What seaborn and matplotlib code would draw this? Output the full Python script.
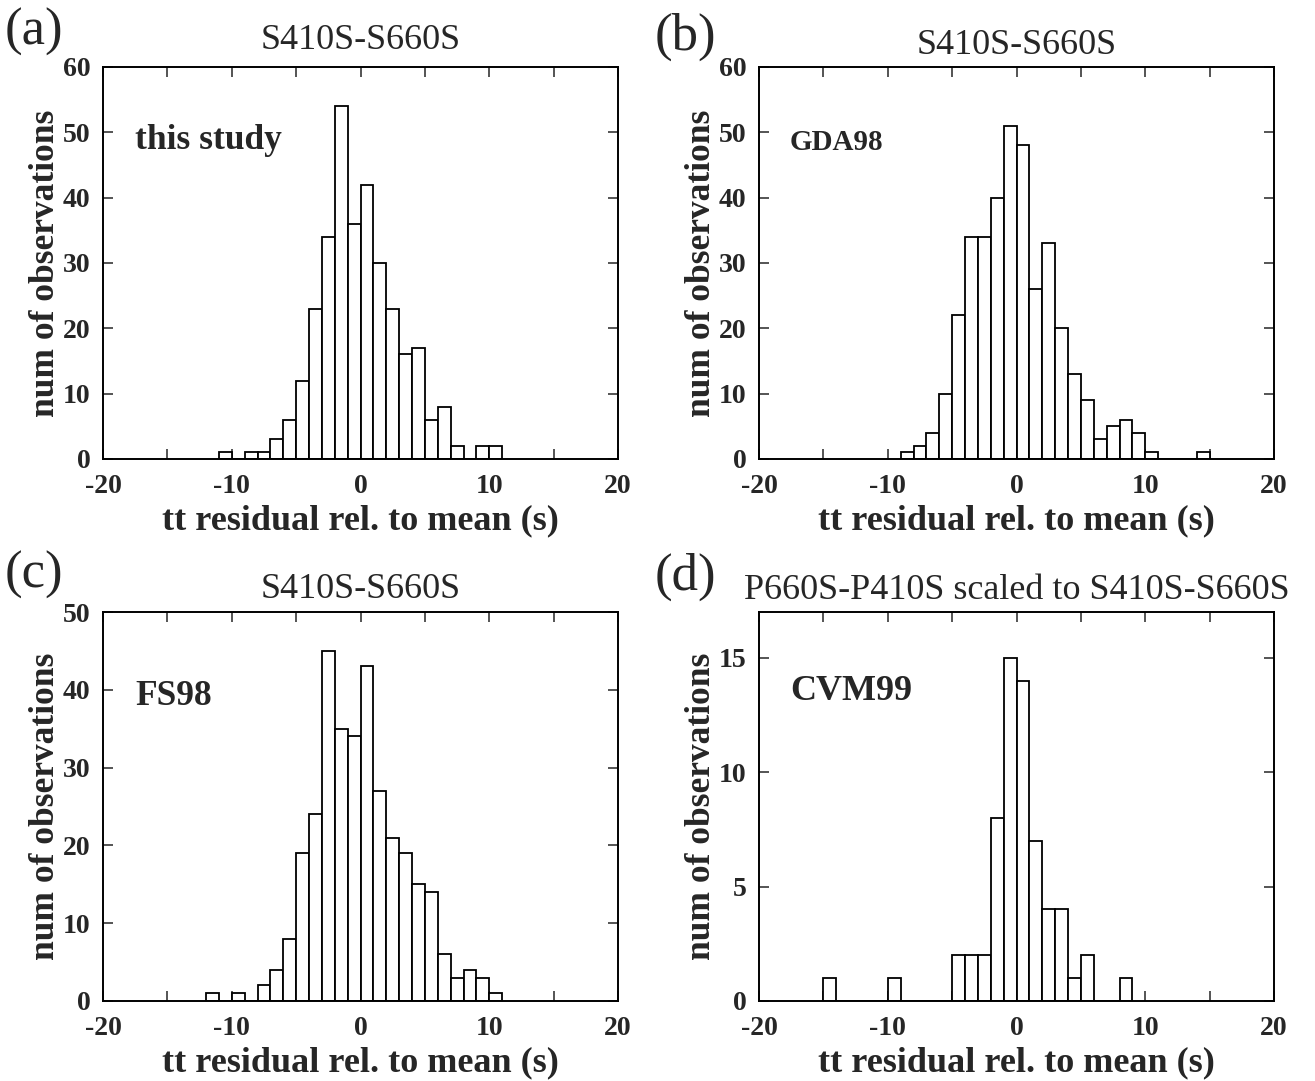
import numpy as np
import pandas as pd
import matplotlib
matplotlib.use("Agg")
import matplotlib.pyplot as plt
import seaborn as sns

# ---------------- data (1 s bins, counts from first bin start) ----------------
a_start = -11
a_counts = [1, 0, 1, 1, 3, 6, 12, 23, 34, 54, 36, 42, 30, 23, 16, 17, 6, 8, 2, 0, 2, 2]
b_start = -9
b_counts = [1, 2, 4, 10, 22, 34, 34, 40, 51, 48, 26, 33, 20, 13, 9, 3, 5, 6, 4, 1, 0, 0, 0, 1]
c_start = -12
c_counts = [1, 0, 1, 0, 2, 4, 8, 19, 24, 45, 35, 34, 43, 27, 21, 19, 15, 14, 6, 3, 4, 3, 1]
d_start = -15
d_counts = [1, 0, 0, 0, 0, 1, 0, 0, 0, 0, 2, 2, 2, 8, 15, 14, 7, 4, 4, 1, 2, 0, 0, 1]

panel_letters = ["(a)", "(b)", "(c)", "(d)"]
titles = ["S410S-S660S", "S410S-S660S", "S410S-S660S",
          "P660S-P410S scaled to S410S-S660S"]
labels = ["this study", "GDA98", "FS98", "CVM99"]
xlabel = "tt residual rel. to mean (s)"
ylabel = "num of observations"
x_ticks = [-20, -10, 0, 10, 20]
y_max = [60, 60, 50, 17]
y_tick_step = [10, 10, 10, 5]

# ---------------- style ----------------
sns.set_style("ticks")
plt.rcParams["font.family"] = ["Liberation Serif", "DejaVu Serif"]
plt.rcParams["axes.linewidth"] = 1.4

W, H = 1315, 1081
fig = plt.figure(figsize=(W / 100, H / 100), dpi=100)

boxes = [(103, 618, 67, 459), (759, 1274, 67, 459),
         (103, 618, 612, 1001), (759, 1274, 612, 1001)]
starts = [a_start, b_start, c_start, d_start]
counts = [a_counts, b_counts, c_counts, d_counts]
# (x_left, baseline_y, fontsize)
label_pos = [(135, 149, 25.5), (790, 150, 21), (135, 705, 25.5), (790, 700, 26)]
letter_pos = [(5, 45), (655, 50), (5, 588), (655, 590)]
title_base = [49, 54, 598, 599]

for i in range(4):
    l, r, t, b = boxes[i]
    ax = fig.add_axes([l / W, 1 - b / H, (r - l) / W, (b - t) / H])
    cnt = np.array(counts[i], dtype=float)
    centers = starts[i] + 0.5 + np.arange(len(cnt))
    df = pd.DataFrame({"x": centers, "n": cnt})
    sns.histplot(data=df, x="x", weights="n", binwidth=1,
                 binrange=(starts[i], starts[i] + len(cnt)), stat="count",
                 color="white", edgecolor="black", linewidth=1.3, alpha=1,
                 ax=ax)
    ax.set_xlim(-20, 20)
    ax.set_ylim(0, y_max[i])
    ax.set_xticks(np.arange(-20, 21, 5))
    ax.set_xticklabels([str(v) if v in x_ticks else "" for v in range(-20, 21, 5)])
    yt = np.arange(0, y_max[i] + 0.1, y_tick_step[i])
    ax.set_yticks(yt)
    ax.set_yticklabels([f"{int(v)}" for v in yt])
    ax.tick_params(direction="in", length=7, width=1.1, top=True, right=True,
                   labelsize=20)
    ax.tick_params(axis="x", pad=11)
    ax.tick_params(axis="y", pad=9)
    for lab in ax.get_xticklabels() + ax.get_yticklabels():
        lab.set_fontweight("bold")
    ax.set_xlabel(xlabel, fontsize=26, fontweight="bold")
    ax.set_ylabel(ylabel, fontsize=25.5, fontweight="bold")
    h = b - t
    w = r - l
    ax.xaxis.set_label_coords(0.5, -(504 - 459) / h)
    ax.yaxis.set_label_coords(-41 / w, 0.5)
    for s in ax.spines.values():
        s.set_visible(True)
        s.set_color("black")
    fig.text((l + r) / 2 / W, 1 - title_base[i] / H, titles[i], fontsize=26,
             ha="center", va="baseline")
    lx, ly, fs = label_pos[i]
    fig.text(lx / W, 1 - ly / H, labels[i], fontsize=fs, fontweight="bold",
             ha="left", va="baseline")
    px, py = letter_pos[i]
    fig.text(px / W, 1 - py / H, panel_letters[i], fontsize=38,
             ha="left", va="baseline")

fig.savefig("out.png", dpi=100, facecolor="white")
